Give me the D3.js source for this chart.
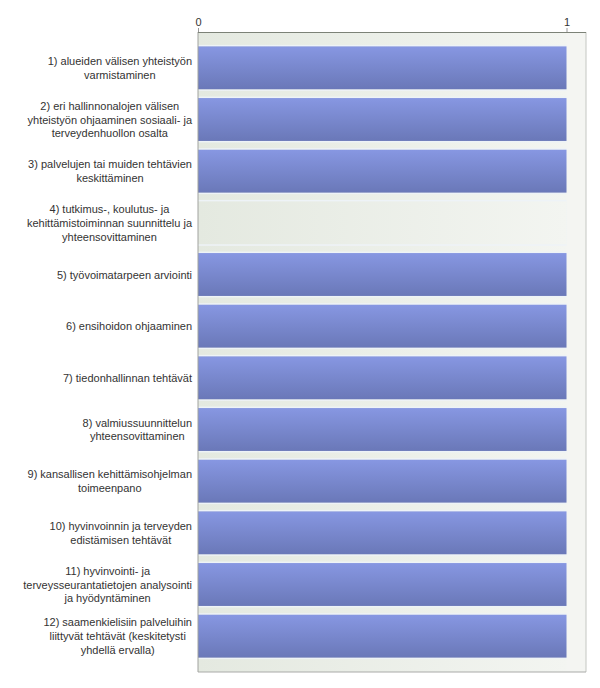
<!DOCTYPE html>
<html>
<head>
<meta charset="utf-8">
<script src="https://cdn.jsdelivr.net/npm/d3@7"></script>
<style>
  body { margin: 0; background: #fff; }
  text { font-family: "Liberation Sans", Arial, sans-serif; }
</style>
</head>
<body>
<script>
// data
const labels = [
  ["1) alueiden välisen yhteistyön", "varmistaminen"],
  ["2) eri hallinnonalojen välisen", "yhteistyön ohjaaminen sosiaali- ja", "terveydenhuollon osalta"],
  ["3) palvelujen tai muiden tehtävien", "keskittäminen"],
  ["4) tutkimus-, koulutus- ja", "kehittämistoiminnan suunnittelu ja", "yhteensovittaminen"],
  ["5) työvoimatarpeen arviointi"],
  ["6) ensihoidon ohjaaminen"],
  ["7) tiedonhallinnan tehtävät"],
  ["8) valmiussuunnittelun", "yhteensovittaminen"],
  ["9) kansallisen kehittämisohjelman", "toimeenpano"],
  ["10) hyvinvoinnin ja terveyden", "edistämisen tehtävät"],
  ["11) hyvinvointi- ja", "terveysseurantatietojen analysointi", "ja hyödyntäminen"],
  ["12) saamenkielisiin palveluihin", "liittyvät tehtävät (keskitetysti", "yhdellä ervalla)"]
]
const values = [1, 1, 1, 0, 1, 1, 1, 1, 1, 1, 1, 1]
const ticks = [0, 1]

const data = labels.map((l, i) => ({ id: i, lines: l, v: values[i] }))

const margin = {top: 32, left: 198},
  plotW = 388,
  plotH = 640,
  valueW = 368.5

const svg = d3.select("body").append("svg")
  .attr("width", 600)
  .attr("height", 688)

const defs = svg.append("defs")

const bg = defs.append("linearGradient").attr("id", "bg")
bg.append("stop").attr("offset", "0%").attr("stop-color", "#e4e9e0")
bg.append("stop").attr("offset", "100%").attr("stop-color", "#f3f5f1")

const bar = defs.append("linearGradient").attr("id", "bar")
  .attr("x1", 0).attr("x2", 0).attr("y1", 0).attr("y2", 1)
bar.append("stop").attr("offset", "0%").attr("stop-color", "#8797e2")
bar.append("stop").attr("offset", "100%").attr("stop-color", "#6a78b8")

const g = svg.append("g")
  .attr("transform", `translate(${margin.left},${margin.top})`)

const x = d3.scaleLinear()
  .domain([0, 1])
  .range([0, valueW])

const y = d3.scaleBand()
  .domain(data.map(d => d.id))
  .range([10, plotH - 10])
  .paddingInner(0.17)
  .paddingOuter(0.085)

// plot background
g.append("rect")
  .attr("width", plotW)
  .attr("height", plotH)
  .attr("fill", "#f4f5f2")

g.append("rect")
  .attr("width", x(1))
  .attr("height", plotH)
  .attr("fill", "url(#bg)")

// light edges round each bar row
g.selectAll(".edge")
  .data(data)
  .enter().append("rect")
  .attr("class", "edge")
  .attr("x", 0)
  .attr("y", d => y(d.id) - 1.5)
  .attr("width", x(1))
  .attr("height", y.bandwidth() + 3)
  .attr("fill", "#eef3f7")

g.selectAll(".row")
  .data(data)
  .enter().append("rect")
  .attr("class", "row")
  .attr("x", 0)
  .attr("y", d => y(d.id))
  .attr("width", x(1))
  .attr("height", y.bandwidth())
  .attr("fill", "url(#bg)")

g.selectAll(".bar")
  .data(data)
  .enter().append("rect")
  .attr("class", "bar")
  .attr("x", 0)
  .attr("y", d => y(d.id))
  .attr("width", d => x(d.v))
  .attr("height", y.bandwidth())
  .attr("fill", "url(#bar)")

// frame
g.append("line").attr("x1", plotW).attr("x2", plotW).attr("y1", 0).attr("y2", plotH)
  .attr("stroke", "#c4c6c2")
g.append("line").attr("x1", 0).attr("x2", plotW).attr("y1", plotH).attr("y2", plotH)
  .attr("stroke", "#a9aaa8")
g.append("line").attr("x1", 0).attr("x2", 0).attr("y1", 0).attr("y2", plotH)
  .attr("stroke", "#a0a29e")

// top axis
const xAxis = d3.axisTop(x)
  .tickValues(ticks)
  .tickFormat(d3.format("d"))
  .tickSize(4)
  .tickSizeOuter(0)

const ax = g.append("g").call(xAxis)
ax.select(".domain").remove()
ax.selectAll(".tick line").attr("stroke", "#999")
ax.selectAll(".tick text")
  .attr("fill", "#333")
  .attr("font-size", 11)
  .attr("y", -6)

g.append("line").attr("x1", 0).attr("x2", plotW).attr("y1", 0.5).attr("y2", 0.5)
  .attr("stroke", "#7c8277")

// category labels, lines centred, block right-aligned
const lineH = 13.7
const lab = svg.append("g")
  .attr("fill", "#333")
  .attr("font-size", 11)

data.forEach(d => {
  const t = lab.append("text").attr("text-anchor", "middle")
  const n = d.lines.length
  const cy = margin.top + y(d.id) + y.bandwidth() / 2
  d.lines.forEach((s, i) => {
    t.append("tspan")
      .attr("y", cy + (i - (n - 1) / 2) * lineH + 4)
      .text(s)
  })
  let w = 0
  t.selectAll("tspan").each(function () { w = Math.max(w, this.getComputedTextLength()) })
  t.selectAll("tspan").attr("x", 192 - w / 2)
})
</script>
</body>
</html>
